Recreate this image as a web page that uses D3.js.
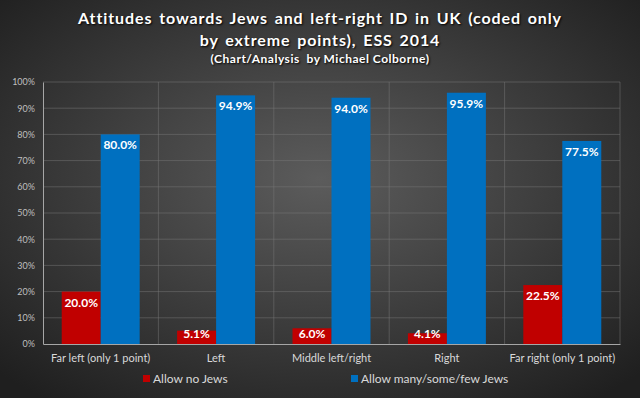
<!DOCTYPE html>
<html>
<head>
<meta charset="utf-8">
<script src="https://cdn.jsdelivr.net/npm/d3@7"></script>
<style>
  body { margin: 0; background: #2a2a2a; }
  svg { display: block; font-family: Lato, "Open Sans", sans-serif; }
</style>
</head>
<body>
<svg class="chart" width="640" height="398"></svg>
<script>
var categories = ["Far left (only 1 point)", "Left", "Middle left/right", "Right", "Far right (only 1 point)"];
var allowNone = [20.0, 5.1, 6.0, 4.1, 22.5];
var allowSome = [80.0, 94.9, 94.0, 95.9, 77.5];
var seriesNames = ["Allow no Jews", "Allow many/some/few Jews"];
var seriesColors = ["#c00000", "#0070c0"];
var yTicks = [0, 10, 20, 30, 40, 50, 60, 70, 80, 90, 100];
var titleLines = ["Attitudes towards Jews and left-right ID in UK (coded only", "by extreme points), ESS 2014"];
var subtitle = "(Chart/Analysis  by Michael Colborne)";

var svg = d3.select(".chart"),
  margin = { top: 82, right: 20, bottom: 54, left: 43 },
  width = +svg.attr("width") - margin.left - margin.right,
  height = +svg.attr("height") - margin.top - margin.bottom;

// background
var defs = svg.append("defs");
var grad = defs.append("radialGradient")
  .attr("id", "bg")
  .attr("cx", "50%").attr("cy", "45%").attr("r", "70%");
grad.append("stop").attr("offset", "0%").attr("stop-color", "#5c5c5c");
grad.append("stop").attr("offset", "100%").attr("stop-color", "#1f1f1f");
svg.append("rect").attr("width", 640).attr("height", 398).attr("fill", "url(#bg)");

// titles
svg.selectAll(".title")
  .data(titleLines)
  .enter()
  .append("text")
  .attr("x", 320)
  .attr("y", function(d, i) { return 24 + i * 22; })
  .attr("text-anchor", "middle")
  .attr("fill", "#ffffff")
  .attr("font-size", 16)
  .attr("font-weight", "bold")
  .attr("word-spacing", 2)
  .attr("letter-spacing", 0.9)
  .style("text-shadow", "1px 1px 2px #000")
  .text(function(d) { return d; });
svg.append("text")
  .attr("x", 320)
  .attr("y", 63)
  .attr("text-anchor", "middle")
  .attr("fill", "#ffffff")
  .attr("font-size", 12)
  .attr("font-weight", "bold")
  .attr("letter-spacing", 0.5)
  .style("white-space", "pre")
  .style("text-shadow", "1px 1px 2px #000")
  .text(subtitle);

var g = svg.append("g")
  .attr("transform", "translate(" + margin.left + "," + margin.top + ")");

var x0 = d3.scaleBand().domain(categories).range([0, width]).paddingInner(0).paddingOuter(0);
var x1 = d3.scaleBand().domain([0, 1]).range([0, x0.bandwidth()]).paddingInner(0).paddingOuter(0.48);
var y = d3.scaleLinear().domain([0, 100]).range([height, 0]);

// grid
g.selectAll(".hgrid")
  .data(yTicks.slice(1))
  .enter()
  .append("line")
  .attr("x1", 0).attr("x2", width)
  .attr("y1", function(d) { return y(d); })
  .attr("y2", function(d) { return y(d); })
  .attr("stroke", "#7a7a7a")
  .attr("stroke-opacity", 0.6)
  .attr("stroke-width", 0.8);
g.selectAll(".vgrid")
  .data(categories.slice(1).concat(["end"]))
  .enter()
  .append("line")
  .attr("x1", function(d) { return d == "end" ? width : x0(d); })
  .attr("x2", function(d) { return d == "end" ? width : x0(d); })
  .attr("y1", 0).attr("y2", height)
  .attr("stroke", "#7a7a7a")
  .attr("stroke-opacity", 0.6)
  .attr("stroke-width", 0.8);

// y axis
var yAxis = g.append("g")
  .call(d3.axisLeft(y).tickValues(yTicks).tickSize(0).tickPadding(8).tickFormat(function(d) { return d + "%"; }));
yAxis.select(".domain").attr("stroke", "#a6a6a6");
yAxis.selectAll("text").attr("fill", "#bfbfbf").attr("font-size", 9).attr("font-family", "Lato, sans-serif");

// x axis
var xAxis = g.append("g")
  .attr("transform", "translate(0," + height + ")")
  .call(d3.axisBottom(x0).tickSize(0).tickPadding(10));
xAxis.select(".domain").attr("stroke", "#a6a6a6");
xAxis.selectAll("text").attr("fill", "#d9d9d9").attr("font-size", 11).attr("font-family", "Lato, sans-serif");

// bars
var series = [allowNone, allowSome];
series.forEach(function(vals, s) {
  var bars = g.append("g");
  bars.selectAll("rect")
    .data(vals)
    .enter()
    .append("rect")
    .attr("x", function(d, i) { return x0(categories[i]) + x1(s); })
    .attr("y", function(d) { return y(d); })
    .attr("width", x1.bandwidth())
    .attr("height", function(d) { return height - y(d); })
    .attr("fill", seriesColors[s]);
  bars.selectAll("text")
    .data(vals)
    .enter()
    .append("text")
    .attr("x", function(d, i) { return x0(categories[i]) + x1(s) + x1.bandwidth() / 2; })
    .attr("y", function(d) { return Math.min(y(d) + 15, height - 6); })
    .attr("text-anchor", "middle")
    .attr("fill", "#ffffff")
    .attr("font-size", 12)
    .attr("font-weight", "bold")
    .text(function(d) { return d.toFixed(1) + "%"; });
});

// legend
var legendX = [143, 351];
var legend = svg.selectAll(".legend")
  .data(seriesNames)
  .enter()
  .append("g")
  .attr("transform", function(d, i) { return "translate(" + legendX[i] + ",379)"; });
legend.append("rect")
  .attr("x", 0).attr("y", -4)
  .attr("width", 7).attr("height", 7)
  .attr("fill", function(d, i) { return seriesColors[i]; });
legend.append("text")
  .attr("x", 10).attr("y", 4)
  .attr("fill", "#d9d9d9")
  .attr("font-size", 12)
  .text(function(d) { return d; });
</script>
</body>
</html>
